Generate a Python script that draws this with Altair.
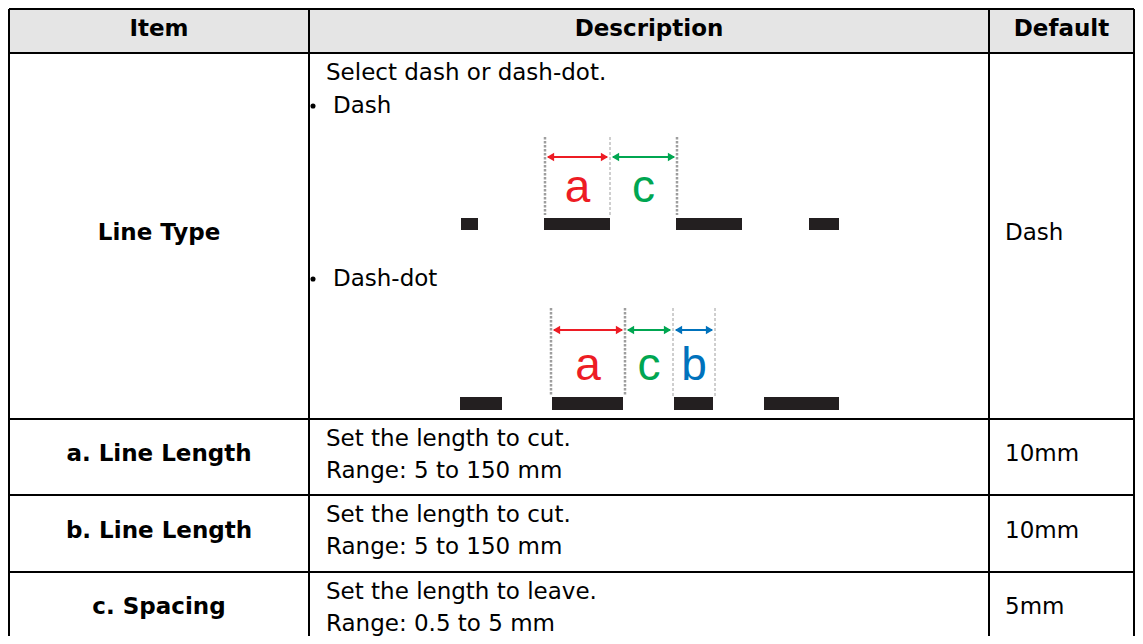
import altair as alt
import pandas as pd

# ---------------- table content ----------------
headers = ["Item", "Description", "Default"]
items = ["Line Type", "a. Line Length", "b. Line Length", "c. Spacing"]
desc_lines = [
    ["Select dash or dash-dot."],
    ["Set the length to cut.", "Range: 5 to 150 mm"],
    ["Set the length to cut.", "Range: 5 to 150 mm"],
    ["Set the length to leave.", "Range: 0.5 to 5 mm"],
]
bullet_items = ["Dash", "Dash-dot"]
defaults = ["Dash", "10mm", "10mm", "5mm"]

# ---------------- layout (page pixels) ----------------
col_edges = [9, 309, 989, 1134]
row_edges = [9, 53, 419, 495, 572, 648]
bullet_baselines = [113, 286]

# ---------------- diagram ----------------
dash_bars = [(461, 478), (544, 610), (676, 742), (809, 839)]
dash_bar_y = (218, 230)
dash_guides = [(545, "thick"), (610, "thin"), (677, "thick")]
dash_guide_y = (137, 215)
dash_arrows = [(545, 610, "a"), (610, 677, "c")]
dash_arrow_y = 157
dash_label_y = 202

dd_bars = [(460, 502), (552, 623), (674, 713), (764, 839)]
dd_bar_y = (397, 410)
dd_guides = [(551, "thick"), (625, "thick"), (673, "thin"), (715, "thin")]
dd_guide_y = (308, 396)
dd_arrows = [(551, 625, "a"), (625, 673, "c"), (673, 715, "b")]
dd_arrow_y = 330
dd_label_y = 380

letter_colors = {"a": "#ed1c24", "c": "#00a651", "b": "#0072bc"}

FONT = "DejaVu Sans"
W, H = 1127, 628
xs = alt.Scale(domain=[8, 8 + W], nice=False, zero=False)
ys = alt.Scale(domain=[8, 8 + H], nice=False, zero=False, reverse=True)


def X(f="x"):
    return alt.X(f"{f}:Q", scale=xs, axis=None)


def Y(f="y"):
    return alt.Y(f"{f}:Q", scale=ys, axis=None)


# header background
hdr_bg = pd.DataFrame([{"x": col_edges[0], "x2": col_edges[-1], "y": row_edges[0], "y2": row_edges[1]}])
bg = alt.Chart(hdr_bg).mark_rect(color="#e5e5e5").encode(
    x=X(), x2="x2:Q", y=Y(), y2="y2:Q")

# grid lines
grid_rows = []
for yv in row_edges[:-1]:
    grid_rows.append({"x": col_edges[0], "x2": col_edges[-1], "y": yv, "y2": yv})
for xv in col_edges:
    grid_rows.append({"x": xv, "x2": xv, "y": row_edges[0], "y2": row_edges[-1]})
grid = alt.Chart(pd.DataFrame(grid_rows)).mark_rule(color="black", strokeWidth=2).encode(
    x=X(), x2="x2:Q", y=Y(), y2="y2:Q")

# header text
hdr_df = pd.DataFrame([
    {"x": (col_edges[i] + col_edges[i + 1]) / 2, "y": 36, "t": h} for i, h in enumerate(headers)
])
hdr_txt = alt.Chart(hdr_df).mark_text(font=FONT, fontWeight="bold", fontSize=23,
                                      align="center", baseline="alphabetic", color="black").encode(
    x=X(), y=Y(), text="t:N")

# item / default / description columns
item_rows, def_rows, desc_rows = [], [], []
for i, it in enumerate(items):
    top, bot = row_edges[i + 1], row_edges[i + 2]
    base = (top + bot) / 2 + 4
    item_rows.append({"x": (col_edges[0] + col_edges[1]) / 2, "y": base, "t": it})
    def_rows.append({"x": col_edges[2] + 16, "y": base, "t": defaults[i]})
    for j, line in enumerate(desc_lines[i]):
        desc_rows.append({"x": col_edges[1] + 17, "y": top + 26.5 + j * 32.3, "t": line})
for k, b in enumerate(bullet_items):
    desc_rows.append({"x": col_edges[1] + 24, "y": bullet_baselines[k], "t": b})

item_txt = alt.Chart(pd.DataFrame(item_rows)).mark_text(
    font=FONT, fontWeight="bold", fontSize=23, align="center", baseline="alphabetic", color="black"
).encode(x=X(), y=Y(), text="t:N")
def_txt = alt.Chart(pd.DataFrame(def_rows)).mark_text(
    font=FONT, fontSize=23, align="left", baseline="alphabetic", color="black"
).encode(x=X(), y=Y(), text="t:N")
desc_txt = alt.Chart(pd.DataFrame(desc_rows)).mark_text(
    font=FONT, fontSize=23, align="left", baseline="alphabetic", color="black"
).encode(x=X(), y=Y(), text="t:N")

bul_df = pd.DataFrame([{"x": col_edges[1] + 4, "y": b - 7} for b in bullet_baselines])
bullets = alt.Chart(bul_df).mark_circle(color="black", opacity=1, size=26).encode(x=X(), y=Y())

# diagram data
bar_rows, guide_rows, arrow_rows, head_rows, label_rows = [], [], [], [], []
for bars, (by0, by1), guides, (gy0, gy1), arrows, ay, ly in [
    (dash_bars, dash_bar_y, dash_guides, dash_guide_y, dash_arrows, dash_arrow_y, dash_label_y),
    (dd_bars, dd_bar_y, dd_guides, dd_guide_y, dd_arrows, dd_arrow_y, dd_label_y),
]:
    for (a0, a1) in bars:
        bar_rows.append({"x": a0, "x2": a1, "y": by0, "y2": by1})
    for (gx, kind) in guides:
        guide_rows.append({"x": gx, "x2": gx, "y": gy0, "y2": gy1, "kind": kind})
    for (a0, a1, lab) in arrows:
        c = letter_colors[lab]
        arrow_rows.append({"x": a0 + 3, "x2": a1 - 3, "y": ay, "y2": ay, "c": c})
        head_rows.append({"x": a0 + 5.5, "y": ay, "c": c, "s": "triangle-left"})
        head_rows.append({"x": a1 - 5.5, "y": ay, "c": c, "s": "triangle-right"})
        label_rows.append({"x": (a0 + a1) / 2, "y": ly, "c": c, "t": lab})

bars_ch = alt.Chart(pd.DataFrame(bar_rows)).mark_rect(color="#231f20").encode(
    x=X(), x2="x2:Q", y=Y(), y2="y2:Q")
gdf = pd.DataFrame(guide_rows)
guides_thick = alt.Chart(gdf[gdf.kind == "thick"]).mark_rule(
    color="#9e9e9e", strokeWidth=2.5, strokeDash=[2.5, 1.5]).encode(x=X(), x2="x2:Q", y=Y(), y2="y2:Q")
guides_thin = alt.Chart(gdf[gdf.kind == "thin"]).mark_rule(
    color="#9e9e9e", strokeWidth=1, strokeDash=[3, 2]).encode(x=X(), x2="x2:Q", y=Y(), y2="y2:Q")
arrows_ch = alt.Chart(pd.DataFrame(arrow_rows)).mark_rule(strokeWidth=2.2).encode(
    x=X(), x2="x2:Q", y=Y(), y2="y2:Q", color=alt.Color("c:N", scale=None))
hdf = pd.DataFrame(head_rows)
heads_l = alt.Chart(hdf[hdf.s == "triangle-left"]).mark_point(
    shape="triangle-left", filled=True, opacity=1, size=70).encode(
    x=X(), y=Y(), color=alt.Color("c:N", scale=None))
heads_r = alt.Chart(hdf[hdf.s == "triangle-right"]).mark_point(
    shape="triangle-right", filled=True, opacity=1, size=70).encode(
    x=X(), y=Y(), color=alt.Color("c:N", scale=None))
labels_ch = alt.Chart(pd.DataFrame(label_rows)).mark_text(
    font="Liberation Sans", fontSize=46, align="center", baseline="alphabetic").encode(
    x=X(), y=Y(), text="t:N", color=alt.Color("c:N", scale=None))

chart = alt.layer(
    bg, bars_ch, guides_thick, guides_thin, arrows_ch, heads_l, heads_r, labels_ch,
    grid, hdr_txt, item_txt, def_txt, desc_txt, bullets,
).properties(
    width=W, height=H, padding=0, autosize="none", background="white"
).configure_view(stroke=None)

chart.save("out.html", embed_options={"renderer": "svg", "actions": False})
